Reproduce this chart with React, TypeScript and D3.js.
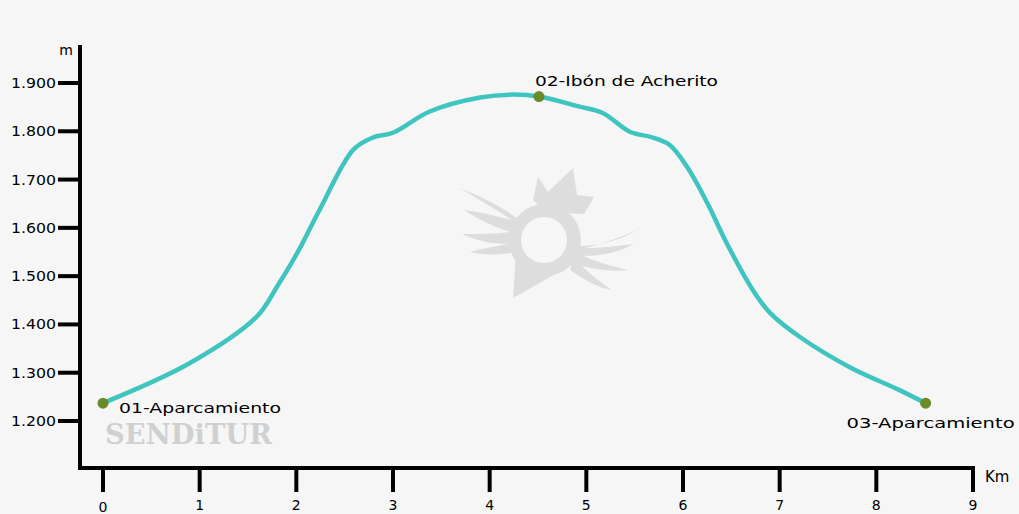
import React from "react";
import * as d3 from "d3";

const distancesKm = [0, 0.9, 1.59, 1.8, 2.01, 2.24, 2.59, 2.79, 3.0, 3.38, 3.9, 4.24, 4.51, 4.93, 5.17, 5.45, 5.69, 5.86, 6.04, 6.25, 6.45, 6.72, 6.9, 7.21, 7.72, 8.24, 8.51];
const elevationsM = [1237, 1320, 1416, 1478, 1548, 1637, 1762, 1787, 1797, 1841, 1870, 1876, 1872, 1851, 1838, 1799, 1787, 1772, 1727, 1652, 1569, 1472, 1424, 1374, 1312, 1264, 1237];

const waypointNames = ["01-Aparcamiento", "02-Ibón de Acherito", "03-Aparcamiento"];
const waypointKm = [0, 4.51, 8.51];
const waypointM = [1237, 1872, 1237];

const yTickValues = [1200, 1300, 1400, 1500, 1600, 1700, 1800, 1900];
const yTickLabels = ["1.200", "1.300", "1.400", "1.500", "1.600", "1.700", "1.800", "1.900"];
const xTickValues = [0, 1, 2, 3, 4, 5, 6, 7, 8, 9];

const W = 1019;
const H = 514;

export default function App() {
  const x = d3.scaleLinear().domain([0, 9]).range([103, 973]);
  const y = d3.scaleLinear().domain([1200, 1900]).range([421, 83]);

  const pts = distancesKm.map((d, i) => [d, elevationsM[i]] as [number, number]);
  const line = d3
    .line<[number, number]>()
    .x((d) => x(d[0]))
    .y((d) => y(d[1]))
    .curve(d3.curveCatmullRom.alpha(0.5));

  const font = "'DejaVu Sans', Verdana, sans-serif";
  const labelPos = [
    { dx: 16, dy: 10, len: 162 },
    { dx: -4, dy: -11, len: 183 },
    { dx: -79, dy: 25, len: 168 },
  ];
  const bg = "#f6f6f6";

  return (
    <svg
      width={W}
      height={H}
      style={{ position: "absolute", left: 0, top: 0, background: bg }}
      fontFamily={font}
    >
      <rect x={0} y={0} width={W} height={H} fill={bg} />

      {/* watermark logo */}
      <g fill="#dddddd">
        {/* crown */}
        <path d="M533,200 L538,177 L548,192 L573,168 L577,195 L594,197 L584,214 L545,212 Z" />
        {/* left wing */}
        <path d="M460,188 C480,196 505,208 522,222 L524,250 C505,255 485,256 470,252 C485,248 498,246 508,244 C490,244 475,240 462,234 C478,234 495,234 510,232 C492,226 476,218 464,210 C480,212 496,216 512,220 C494,208 476,198 460,188 Z" />
        {/* right wing */}
        <path d="M640,228 C622,240 600,246 576,246 L570,270 C585,280 598,288 612,290 C600,282 590,274 582,266 C598,270 614,272 628,270 C612,266 596,262 584,256 C602,256 620,252 634,244 C618,246 602,248 586,248 C606,242 626,236 640,228 Z" />
        {/* pin ring */}
        <path d="M545,204 A36,36 0 1 1 544.9,204 Z" />
        <path d="M516,254 L513,298 L566,268 Z" />
        <circle cx={544} cy={240} r={23} fill={bg} />
      </g>
      <text
        x={105}
        y={444}
        fontFamily="'DejaVu Serif', 'Liberation Serif', serif"
        fontWeight="bold"
        fontSize={27}
        fill="#d0d0d0"
        textLength={167}
        lengthAdjust="spacingAndGlyphs"
      >
        SENDiTUR
      </text>

      {/* y axis */}
      <line x1={80} x2={80} y1={45} y2={470} stroke="#000" strokeWidth={4} />
      {yTickValues.map((v, i) => (
        <g key={v}>
          <line x1={58} x2={80} y1={y(v)} y2={y(v)} stroke="#000" strokeWidth={4} />
          <text x={56} y={y(v) + 5} textAnchor="end" fontSize={14} fill="#000" textLength={45} lengthAdjust="spacingAndGlyphs">
            {yTickLabels[i]}
          </text>
        </g>
      ))}
      <text x={73} y={55} textAnchor="end" fontSize={14} fill="#000">m</text>

      {/* x axis */}
      <line x1={78} x2={975} y1={468} y2={468} stroke="#000" strokeWidth={4} />
      {xTickValues.map((v) => (
        <g key={v}>
          <line x1={x(v)} x2={x(v)} y1={468} y2={492} stroke="#000" strokeWidth={4} />
          <text x={x(v)} y={v === 0 ? 512 : 510} textAnchor="middle" fontSize={14} fill="#000">
            {v}
          </text>
        </g>
      ))}
      <text x={985} y={482} fontSize={15} fill="#000">Km</text>

      {/* profile */}
      <path d={line(pts) || ""} fill="none" stroke="#3fc4c0" strokeWidth={4.5} strokeLinecap="round" strokeLinejoin="round" />

      {waypointNames.map((name, i) => (
        <g key={name}>
          <circle cx={x(waypointKm[i])} cy={y(waypointM[i])} r={5.5} fill="#6b8a2a" />
          <text
            x={x(waypointKm[i]) + labelPos[i].dx}
            y={y(waypointM[i]) + labelPos[i].dy}
            fontSize={14}
            fill="#000"
            textLength={labelPos[i].len}
            lengthAdjust="spacingAndGlyphs"
          >
            {name}
          </text>
        </g>
      ))}
    </svg>
  );
}
